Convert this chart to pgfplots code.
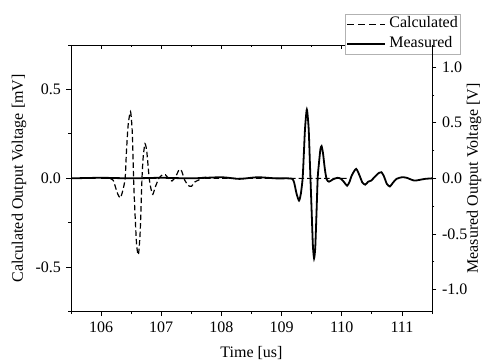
\documentclass[border=0pt]{standalone}
\usepackage{fontspec}
\setmainfont{Liberation Serif}
\usepackage{pgfplots}
\pgfplotsset{compat=1.18}
\pgfplotstableread{
t v
106.00 0
106.15 0
106.20 -0.01
106.24 -0.05
106.28 -0.09
106.32 -0.11
106.36 -0.07
106.40 0.0
106.42 0.14
106.45 0.30
106.49 0.375
106.52 0.25
106.54 0.0
106.56 -0.17
106.59 -0.37
106.62 -0.43
106.65 -0.30
106.68 0.0
106.70 0.12
106.73 0.195
106.76 0.15
106.80 0.0
106.83 -0.06
106.86 -0.09
106.90 -0.05
106.96 0.0
107.02 0.02
107.07 0.02
107.13 -0.005
107.18 -0.015
107.24 0.01
107.30 0.05
107.34 0.04
107.39 -0.01
107.45 -0.04
107.50 -0.045
107.56 -0.02
107.62 -0.01
107.70 0.005
107.80 0.0
110.10 0.0
}\calc
\pgfplotstableread{
t v
105.50 0.0
106.00 0.005
106.50 0.0
107.00 0.005
107.50 0.0
108.00 0.01
108.30 -0.005
108.60 0.01
108.90 0.0
109.10 0.0
109.18 -0.005
109.21 -0.04
109.25 -0.14
109.29 -0.20
109.32 -0.14
109.35 0.0
109.37 0.22
109.39 0.45
109.42 0.62
109.45 0.45
109.47 0.15
109.48 0.0
109.50 -0.30
109.52 -0.60
109.54 -0.72
109.56 -0.62
109.58 -0.32
109.60 0.0
109.62 0.13
109.645 0.26
109.665 0.29
109.69 0.22
109.72 0.08
109.75 -0.01
109.79 -0.03
109.85 -0.01
109.93 0.005
109.99 -0.005
110.04 -0.035
110.09 -0.066
110.13 -0.03
110.17 0.03
110.24 0.085
110.30 0.02
110.34 -0.035
110.39 -0.057
110.44 -0.03
110.49 -0.02
110.56 0.02
110.62 0.05
110.66 0.055
110.70 0.02
110.75 -0.05
110.80 -0.073
110.85 -0.04
110.91 -0.005
111.00 0.01
111.08 0.005
111.21 -0.02
111.38 -0.005
111.50 0.0
}\meas
\begin{document}
\fontsize{16bp}{19bp}\selectfont
\begin{tikzpicture}
\pgfplotsset{
  common/.style={
    scale only axis, width=361bp, height=266.7bp,
    xmin=105.5, xmax=111.5,
    at={(0,0)}, anchor=south west,
    /pgf/number format/assume math mode=true,
    major tick length=4.5bp, minor tick length=2.5bp,
    every tick/.style={black, line width=0.8bp},
    every minor tick/.style={black, line width=0.8bp},
    axis line style={line width=0.9bp, -},
    every outer x axis line/.append style={-},
    every outer y axis line/.append style={-},
    xtick={106,107,108,109,110,111},
    minor xtick={105.5,106.5,107.5,108.5,109.5,110.5,111.5},
    yticklabel style={/pgf/number format/fixed, /pgf/number format/fixed zerofill, /pgf/number format/precision=1},
    legend image code/.code={\draw[##1] (0bp,0bp) -- (38bp,0bp);},
  }
}
% top ticks
\begin{axis}[common, axis x line*=top, axis y line=none, tick align=inside,
  xticklabels={}, ymin=0, ymax=1]
\addplot[draw=none] coordinates {(106,0.5)};
\end{axis}
% main left axis
\begin{axis}[common, axis x line*=bottom, axis y line*=left, tick align=outside,
  ymin=-0.75, ymax=0.75, ytick={-0.5,0,0.5}, minor ytick={-0.75,-0.25,0.25,0.75},
  xlabel={Time [us]}, ylabel={Calculated Output Voltage [mV]},
  xlabel style={at={(axis description cs:0.5,-0.1537)}, anchor=center},
  ylabel style={at={(axis description cs:-0.144,0.5)}, anchor=center},
  legend style={at={(1.0776,1.1174)}, anchor=north east, draw=gray!60, fill=white,
    inner xsep=1bp, inner ysep=1.5bp, row sep=2bp, column sep=2bp,
    nodes={inner sep=1bp, text height=11.5bp, text depth=4bp}},
  legend cell align=left]
\addplot[black, line width=1.2bp, dash pattern=on 5.5bp off 3bp, smooth, tension=0.4, forget plot] table[x=t,y=v] {\calc};
\addlegendimage{black, line width=1.2bp, dash pattern=on 6.7bp off 4.3bp}
\addlegendentry{Calculated}
\addlegendimage{black, line width=1.8bp}
\addlegendentry{Measured}
\end{axis}
% right axis
\begin{axis}[common, axis y line*=right, axis x line=none, tick align=outside,
  ymin=-1.2, ymax=1.2, ytick={-1,-0.5,0,0.5,1}, minor ytick={-0.75,-0.25,0.25,0.75},
  ylabel={Measured Output Voltage [V]},
  ylabel style={at={(axis description cs:1.1163,0.5)}, anchor=center}]
\addplot[black, line width=1.8bp, smooth, tension=0.4] table[x=t,y=v] {\meas};
\end{axis}
\pgfresetboundingbox
\useasboundingbox (-71bp,-52.3bp) rectangle (416bp,311.7bp);
\end{tikzpicture}
\end{document}
